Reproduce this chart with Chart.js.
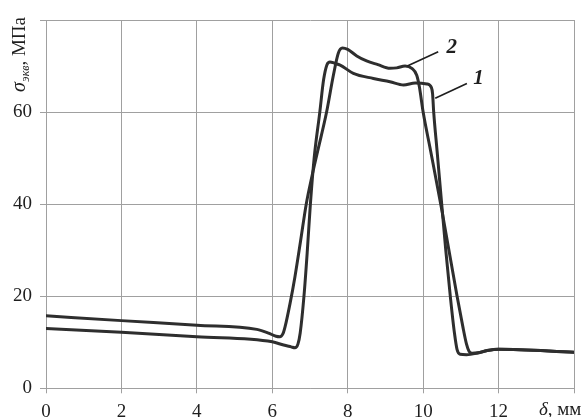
<!DOCTYPE html>
<html>
<head>
<meta charset="utf-8">
<script src="https://cdn.jsdelivr.net/npm/chart.js@4/dist/chart.umd.min.js"></script>
<style>
  html, body { margin: 0; padding: 0; background: #fff; }
  #wrap { width: 584px; height: 417px; position: relative; }
</style>
</head>
<body>
<div id="wrap"><canvas id="c" width="584" height="417"></canvas></div>
<script>
// Axis ticks
const xTicks = [0, 2, 4, 6, 8, 10, 12, 14];
const yTicks = [0, 20, 40, 60, 80];

// Curve 1: thickness coordinate δ (mm) and equivalent stress (MPa)
const curve1X = [0, 2, 4, 6, 6.3, 6.5, 6.6, 6.68, 6.74, 6.84, 6.93, 7.01, 7.11, 7.26, 7.36, 7.45, 7.53, 7.65, 7.8, 8.15, 8.68, 9.12, 9.48, 9.79, 10.1, 10.22, 10.25, 10.28, 10.37, 10.5, 10.6, 10.72, 10.83, 10.9, 10.98, 11.15, 11.42, 11.7, 12, 14];
const curve1Y = [13.0, 12.2, 11.2, 10.1, 9.4, 9.0, 8.8, 9.6, 12.0, 20, 30, 40, 50, 60, 67, 70.3, 70.9, 70.6, 70.2, 68.4, 67.3, 66.6, 65.9, 66.3, 66.1, 65.3, 64, 60, 51.5, 39.3, 30, 20, 12, 8.4, 7.4, 7.3, 7.6, 8.2, 8.5, 7.85];

// Curve 2
const curve2X = [0, 2, 4, 5.59, 5.9, 6.1, 6.2, 6.28, 6.34, 6.47, 6.6, 6.75, 6.9, 7.05, 7.2, 7.44, 7.62, 7.75, 7.86, 8.0, 8.24, 8.5, 8.8, 9.12, 9.3, 9.52, 9.7, 9.83, 9.9, 10.0, 10.2, 10.5, 10.9, 11.05, 11.15, 11.22, 11.3, 11.45, 11.7, 12, 14];
const curve2Y = [15.75, 14.7, 13.7, 12.8, 12.0, 11.3, 11.2, 11.8, 13.4, 18.4, 24.2, 32, 40, 46, 51.4, 60, 68, 72.8, 73.9, 73.6, 72.2, 71.1, 70.3, 69.5, 69.6, 70.0, 69.5, 68, 65.5, 60, 51.5, 38.5, 20, 13.5, 9.6, 8.0, 7.6, 7.7, 8.2, 8.5, 7.85];

// Curve captions with leader lines (data units)
const captionText = ['1', '2'];
const captionAt = [[11.47, 67.2], [10.76, 74.0]];
const leaderFrom = [[10.32, 63.0], [9.58, 70.0]];
const leaderTo = [[11.16, 66.2], [10.40, 73.1]];

const SERIF = "'Liberation Serif', 'Times New Roman', serif";
const INK = '#2e2e2e';
const GRID = '#a0a0a0';

const toPoints = (xs, ys) => xs.map((x, i) => ({ x, y: ys[i] }));

// Axis titles with italic symbols and a subscript, plus curve captions
const decorations = {
  id: 'decorations',
  afterDraw(chart) {
    const ctx = chart.ctx;
    const xs = chart.scales.x, ys = chart.scales.y;
    ctx.save();
    ctx.fillStyle = '#1e1e1e';
    ctx.textBaseline = 'alphabetic';
    ctx.textAlign = 'left';

    // vertical title: σэкв, МПа
    ctx.save();
    ctx.translate(25, 92);
    ctx.rotate(-Math.PI / 2);
    let p = 0;
    ctx.font = 'italic 20px ' + SERIF;
    ctx.fillText('σ', p, 0);
    p += ctx.measureText('σ').width + 0.5;
    ctx.font = 'italic 12px ' + SERIF;
    ctx.fillText('экв', p, 4);
    p += ctx.measureText('экв').width;
    ctx.font = '19px ' + SERIF;
    ctx.fillText(', МПа', p, 0);
    ctx.restore();

    // horizontal title: δ, мм
    let q = 539;
    const base = 415;
    ctx.font = 'italic 19px ' + SERIF;
    ctx.fillText('δ', q, base);
    q += ctx.measureText('δ').width;
    ctx.font = '19px ' + SERIF;
    ctx.fillText(', мм', q, base);

    // curve captions
    ctx.strokeStyle = '#1e1e1e';
    ctx.lineWidth = 1.6;
    for (let i = 0; i < captionText.length; i++) {
      ctx.beginPath();
      ctx.moveTo(xs.getPixelForValue(leaderFrom[i][0]), ys.getPixelForValue(leaderFrom[i][1]));
      ctx.lineTo(xs.getPixelForValue(leaderTo[i][0]), ys.getPixelForValue(leaderTo[i][1]));
      ctx.stroke();
      ctx.font = 'italic bold 21px ' + SERIF;
      ctx.textAlign = 'center';
      ctx.textBaseline = 'middle';
      ctx.fillText(captionText[i], xs.getPixelForValue(captionAt[i][0]), ys.getPixelForValue(captionAt[i][1]));
    }
    ctx.restore();
  }
};

const lineStyle = {
  borderColor: INK,
  borderWidth: 3,
  pointRadius: 0,
  fill: false,
  cubicInterpolationMode: 'monotone',
  borderCapStyle: 'round',
  borderJoinStyle: 'round'
};

new Chart(document.getElementById('c'), {
  type: 'line',
  data: {
    datasets: [
      Object.assign({ label: '1', data: toPoints(curve1X, curve1Y) }, lineStyle),
      Object.assign({ label: '2', data: toPoints(curve2X, curve2Y) }, lineStyle)
    ]
  },
  options: {
    responsive: false,
    devicePixelRatio: 1,
    animation: false,
    layout: { padding: { top: 20, right: 10, left: 0, bottom: 0 } },
    plugins: { legend: { display: false }, tooltip: { enabled: false } },
    scales: {
      x: {
        type: 'linear',
        min: xTicks[0],
        max: xTicks[xTicks.length - 1],
        afterBuildTicks: s => { s.ticks = xTicks.map(v => ({ value: v })); },
        afterFit: s => { s.height = 28.7; },
        grid: { color: GRID, lineWidth: 1, tickLength: 5, drawTicks: true },
        border: { display: true, color: GRID, width: 1 },
        ticks: {
          maxRotation: 0,
          autoSkip: false,
          padding: 7,
          color: '#1e1e1e',
          font: { family: SERIF, size: 19 },
          callback: v => (v === 14 ? '' : String(v))
        }
      },
      y: {
        type: 'linear',
        min: yTicks[0],
        max: yTicks[yTicks.length - 1],
        afterBuildTicks: s => { s.ticks = yTicks.map(v => ({ value: v })); },
        afterFit: s => { s.width = 46; },
        grid: { color: GRID, lineWidth: 1, tickLength: 6, drawTicks: true },
        border: { display: true, color: GRID, width: 1 },
        ticks: {
          padding: 8,
          color: '#1e1e1e',
          font: { family: SERIF, size: 19 },
          callback: v => (v === 80 ? '' : String(v))
        }
      }
    }
  },
  plugins: [decorations]
});
</script>
</body>
</html>
